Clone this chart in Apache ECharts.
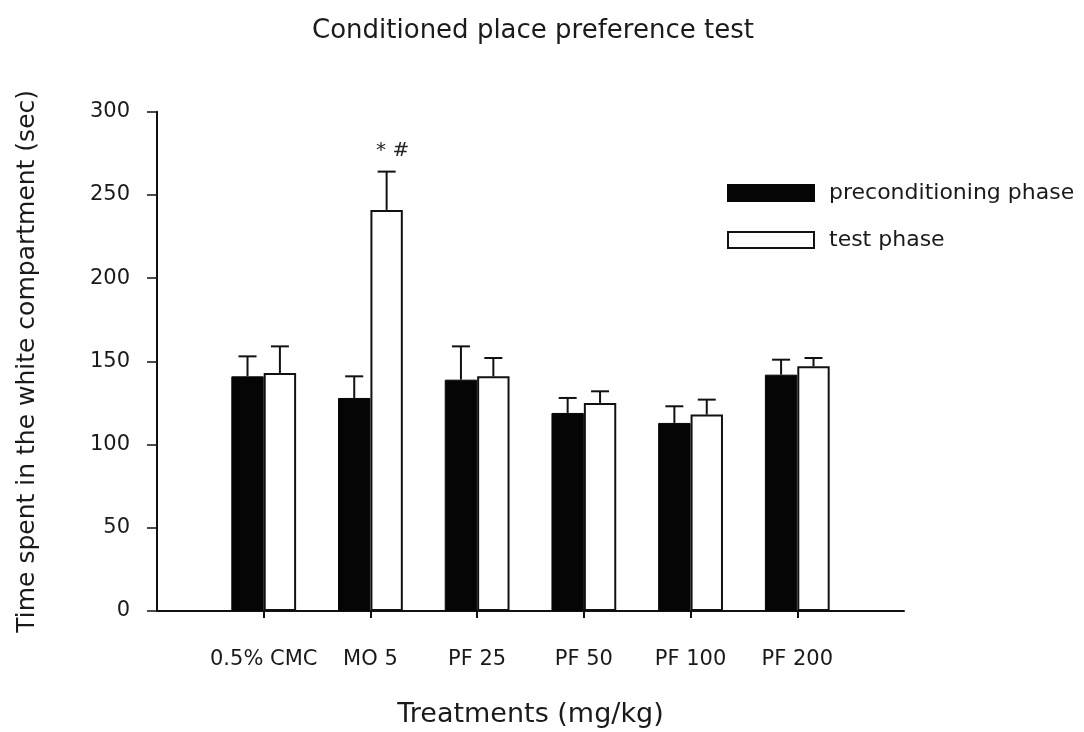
<!DOCTYPE html>
<html>
<head>
<meta charset="utf-8">
<title>Conditioned place preference test</title>
<script src="https://cdn.jsdelivr.net/npm/echarts@6/dist/echarts.min.js"></script>
<style>
  html, body { margin: 0; padding: 0; background: #ffffff; }
  #chart { width: 1084px; height: 732px; }
</style>
</head>
<body>
<div id="chart"></div>
<script>
// Treatment groups (mg/kg)
const categories = ['0.5% CMC', 'MO 5', 'PF 25', 'PF 50', 'PF 100', 'PF 200'];

// Mean time spent in the white compartment (sec) and SEM
const preconditioning = [141, 128, 139, 119, 113, 142];
const preconditioningSem = [12, 13, 20, 9, 10, 9];
const testPhase = [143, 241, 141, 125, 118, 147];
const testPhaseSem = [16, 23, 11, 7, 9, 5];

// Significance marks above the test-phase bars
const testPhaseMarks = ['', '* #', '', '', '', ''];

// Y axis range
const yMin = 0;
const yMax = 300;
const yStep = 50;

const FONT = 'DejaVu Sans';
const BAR_WIDTH = 32.4;
const CAP = 9;

// The axis leaves one empty slot at each end so groups sit between the ends
const axisCategories = ['', ...categories, ''];
const padded = arr => ['-', ...arr, '-'];
const errorData = (means, sems) => means.map((m, i) => [i + 1, m, sems[i]]);

function errorBars(offset, marks) {
  return function (params, api) {
    const idx = api.value(0);
    const mean = api.value(1);
    const sem = api.value(2);
    const base = api.coord([idx, mean]);
    const top = api.coord([idx, mean + sem]);
    const x = base[0] + offset;
    const style = { stroke: '#111', lineWidth: 2 };
    const children = [
      { type: 'line', shape: { x1: x, y1: base[1], x2: x, y2: top[1] }, style },
      { type: 'line', shape: { x1: x - CAP, y1: top[1], x2: x + CAP, y2: top[1] }, style }
    ];
    const mark = marks ? marks[params.dataIndex] : '';
    if (mark) {
      children.push({
        type: 'text',
        style: {
          text: mark, x: x + 6, y: top[1] - 21,
          align: 'center', verticalAlign: 'middle',
          font: '20px "' + FONT + '"', fill: '#222'
        }
      });
    }
    return { type: 'group', children };
  };
}

const chart = echarts.init(document.getElementById('chart'), null, { renderer: 'canvas' });

chart.setOption({
  animation: false,
  backgroundColor: '#ffffff',
  title: {
    text: 'Conditioned place preference test',
    left: 528,
    top: 13,
    textAlign: 'center',
    textStyle: { fontFamily: FONT, fontSize: 26, fontWeight: 'normal', color: '#1a1a1a' }
  },
  legend: {
    orient: 'vertical',
    left: 722,
    top: 177,
    itemWidth: 86,
    itemHeight: 16,
    itemGap: 25,
    icon: 'rect',
    selectedMode: false,
    data: ['preconditioning phase', 'test phase'],
    textStyle: {
      fontFamily: FONT, fontSize: 22, lineHeight: 22, color: '#1a1a1a',
      padding: [0, 0, 0, 10]
    }
  },
  grid: {
    left: 157,
    right: 180,
    top: 111.7,
    bottom: 121,
    containLabel: false,
    outerBoundsMode: 'none'
  },
  xAxis: {
    type: 'category',
    data: axisCategories,
    boundaryGap: false,
    name: 'Treatments (mg/kg)',
    nameLocation: 'middle',
    nameGap: 90,
    nameTextStyle: { fontFamily: FONT, fontSize: 27, color: '#1a1a1a' },
    axisLine: { show: true, lineStyle: { color: '#111', width: 2 } },
    axisTick: {
      show: true,
      length: 7,
      interval: (index) => index > 0 && index < axisCategories.length - 1,
      lineStyle: { color: '#111', width: 2 }
    },
    axisLabel: {
      interval: 0,
      margin: 38,
      fontFamily: FONT,
      fontSize: 21,
      color: '#1a1a1a',
      hideOverlap: false
    },
    splitLine: { show: false }
  },
  yAxis: {
    type: 'value',
    min: yMin,
    max: yMax,
    interval: yStep,
    name: 'Time spent in the white compartment (sec)',
    nameLocation: 'middle',
    nameGap: 117,
    nameRotate: 90,
    nameTextStyle: { fontFamily: FONT, fontSize: 25, color: '#1a1a1a' },
    axisLine: { show: true, lineStyle: { color: '#111', width: 2 } },
    axisTick: { show: true, length: 10, lineStyle: { color: '#111', width: 1.5 } },
    axisLabel: {
      margin: 27,
      fontFamily: FONT,
      fontSize: 21,
      color: '#1a1a1a',
      showMinLabel: true,
      showMaxLabel: true
    },
    splitLine: { show: false }
  },
  series: [
    {
      name: 'preconditioning phase',
      type: 'bar',
      data: padded(preconditioning),
      barWidth: BAR_WIDTH,
      barGap: '0%',
      itemStyle: { color: '#050505', borderColor: '#050505', borderWidth: 1 }
    },
    {
      name: 'test phase',
      type: 'bar',
      data: padded(testPhase),
      barWidth: BAR_WIDTH,
      barGap: '0%',
      itemStyle: { color: '#ffffff', borderColor: '#111', borderWidth: 2 }
    },
    {
      name: 'preconditioning SEM',
      type: 'custom',
      data: errorData(preconditioning, preconditioningSem),
      encode: { x: 0, y: 1 },
      renderItem: errorBars(-BAR_WIDTH / 2, null),
      z: 5
    },
    {
      name: 'test phase SEM',
      type: 'custom',
      data: errorData(testPhase, testPhaseSem),
      encode: { x: 0, y: 1 },
      renderItem: errorBars(BAR_WIDTH / 2, testPhaseMarks),
      z: 5
    }
  ]
});
</script>
</body>
</html>
